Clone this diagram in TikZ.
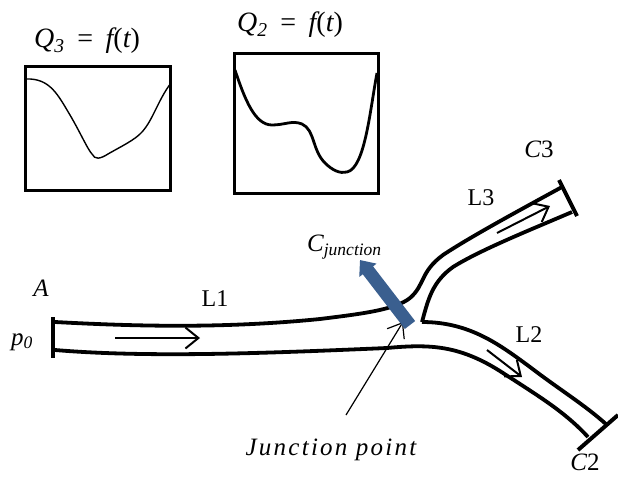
\documentclass[tikz,border=0pt]{standalone}
\usepackage{fontspec}
\setmainfont{Liberation Serif}
\newfontfamily\varfont[LetterSpace=9]{Liberation Serif}
\usetikzlibrary{arrows.meta, positioning, calc}
\newcommand{\flowplot}[4]{%
  % box corners, curve style, curve path
  \draw[plotbox] #1 rectangle #2;
  \draw[#3] #4;
}
\newcommand{\flowlaw}[1]{Q\textsubscript{#1}\hspace{.45em}{\upshape =}\hspace{.45em}f{\upshape (}t{\upshape )}}

\begin{document}
\begin{tikzpicture}[
    x=1pt, y=-1pt,
    plotbox/.style={draw, line width=3pt},
    wall/.style={line width=3.8pt, line join=round},
    endbar/.style={line width=4pt},
    flow/.style={line width=2pt, -{Straight Barb[length=13pt, width=21pt, line width=2pt]}},
    pointer/.style={line width=1.2pt, -{Straight Barb[length=13pt, width=20pt, line width=1.2pt]}},
    outflow/.style={line width=13pt, draw=junctionblue, -{Triangle[length=13pt, width=21pt]}},
    mathlabel/.style={inner sep=0pt, font=\fontsize{25}{30}\selectfont\varfont\itshape},
    lawlabel/.style={mathlabel, font=\fontsize{28}{32}\selectfont\varfont\itshape},
    textlabel/.style={inner sep=0pt, font=\fontsize{24}{30}\selectfont}
  ]
  \definecolor{junctionblue}{RGB}{58,95,143}
  \useasboundingbox (0,0) rectangle (618,477);

  % the two signals
  \flowplot{(25,66)}{(170,190)}{line width=1.4pt}
    {(26,79) .. controls (50,78) and (58,95) .. (70,115) .. controls (80,132) and (88,150) .. (92,154)
     .. controls (95,160) and (100,159) .. (108,154) .. controls (120,147) and (135,140) .. (142,132)
     .. controls (153,120) and (158,100) .. (171,83)}
  \flowplot{(234,53)}{(378,193)}{line width=2.8pt}
    {(235,70) .. controls (245,100) and (255,125) .. (272,125) .. controls (285,125) and (292,120) .. (302,124)
     .. controls (315,130) and (312,150) .. (325,163) .. controls (332,170) and (340,174) .. (347,172)
     .. controls (365,168) and (370,110) .. (377,73)}
  \node[lawlabel] (q3) at (87,41) {\flowlaw{3}};
  \node[lawlabel] (q2) at (290,25) {\flowlaw{2}};

  % vessel walls
  \draw[wall] (55,322) .. controls (130,326) and (220,329) .. (320,319)
    .. controls (360,314) and (395,310) .. (410,298) .. controls (425,285) and (420,272) .. (443,255)
    .. controls (470,237) and (520,210) .. (562,187);
  \draw[wall] (572,212) .. controls (530,230) and (480,250) .. (453,267)
    .. controls (432,282) and (428,300) .. (422,322);
  \draw[wall] (422,322) .. controls (470,322) and (500,345) .. (530,367)
    .. controls (560,390) and (585,405) .. (607,425);
  \draw[wall] (55,350) .. controls (150,358) and (270,353) .. (387,348)
    .. controls (430,344) and (460,345) .. (503,373) .. controls (540,397) and (565,412) .. (588,437);

  % end bars
  \draw[endbar] (53,317) -- (53,358);
  \draw[endbar] (559,180) -- (577,216);
  \draw[endbar] (578,450) -- (618,415);

  % flow direction
  \coordinate (l1a) at (115,338);
  \coordinate (l1b) at (200,338);
  \coordinate (l3a) at (497,233);
  \coordinate (l3b) at (550,206);
  \coordinate (l2a) at (487,350);
  \coordinate (l2b) at (522,377);
  \draw[flow] (l1a) -- (l1b);
  \draw[flow] (l3a) -- (l3b);
  \draw[flow] (l2a) -- (l2b);

  % junction
  \coordinate (ptail) at (346,415);
  \coordinate (ptip) at (403,322);
  \coordinate (jtail) at (410,325);
  \coordinate (jtip) at (360,260);
  \draw[pointer] (ptail) -- (ptip);
  \draw[outflow] (jtail) -- (jtip);

  % labels
  \node[mathlabel] (a) at (41,288) {A};
  \node[mathlabel] (p0) at (22,342) {p\textsubscript{0}};
  \node[textlabel] (l1) at (215,299) {L1};
  \node[textlabel] (l3) at (481,198) {L3};
  \node[textlabel] (l2) at (529,335) {L2};
  \node[mathlabel] (c3) at (539,149) {C{\upshape 3}};
  \node[mathlabel] (c2) at (585,462) {C{\upshape 2}};
  \begin{scope}
    \clip (300,220) rectangle (384,270);
    \node[mathlabel, anchor=west] (cj) at (307,247) {C\textsubscript{\rmfamily\itshape junction}};
  \end{scope}
  \node[mathlabel] (jp) at (331,450) {Junction point};
\end{tikzpicture}
\end{document}
